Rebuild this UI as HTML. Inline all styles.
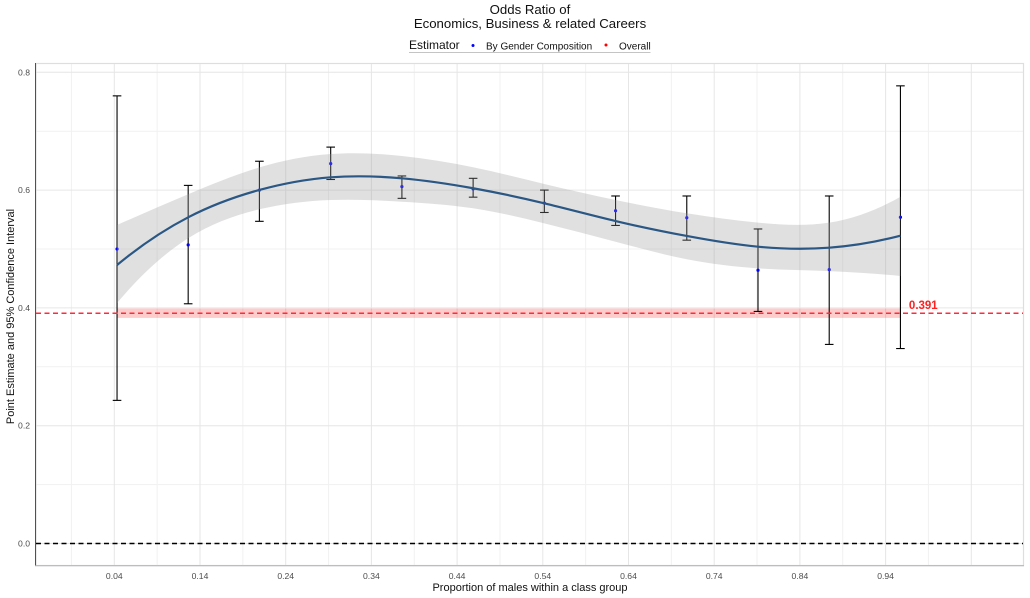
<!DOCTYPE html>
<html>
<head>
<meta charset="utf-8">
<title>Odds Ratio of Economics, Business &amp; related Careers</title>
<style>
html,body{margin:0;padding:0;background:#fff;width:1030px;height:598px;overflow:hidden}
svg{display:block}
text{font-family:"Liberation Sans",sans-serif}
</style>
</head>
<body>
<svg id="chart" xmlns="http://www.w3.org/2000/svg" width="1030" height="598" viewBox="0 0 1030 598">
  <rect x="0" y="0" width="1030" height="598" fill="#fff"/>
  <g id="grid"></g>
  <rect x="36" y="63.5" width="987.5" height="502" fill="none" stroke="#dedede" stroke-width="1.2"/>
  <g id="ci-band"></g>
  <g id="bars"></g>
  <g id="points"></g>
  <g id="smooth"></g>
  <g id="refs"></g>
  <line x1="35.5" y1="63" x2="35.5" y2="566" stroke="#2c5a86" stroke-width="1"/>
  <line x1="35" y1="565.8" x2="1024" y2="565.8" stroke="#b0b0bc" stroke-width="1"/>
  <g id="ticks"></g>
  <text x="530" y="14" font-size="13.2" fill="#111" text-anchor="middle">Odds Ratio of</text>
  <text x="530" y="28" font-size="13.2" fill="#111" text-anchor="middle">Economics, Business &amp; related Careers</text>
  <text x="409" y="49" font-size="12" fill="#111">Estimator</text>
  <circle cx="473" cy="45.5" r="1.5" fill="#0000ff"/>
  <text x="486" y="49.5" font-size="10" fill="#111">By Gender Composition</text>
  <circle cx="606" cy="45" r="1.5" fill="#ff0000"/>
  <text x="619" y="49.5" font-size="10" fill="#111">Overall</text>
  <line x1="409" y1="52.5" x2="650.5" y2="52.5" stroke="#c4c4c4" stroke-width="1"/>
  <text x="530" y="591" font-size="11" fill="#111" text-anchor="middle">Proportion of males within a class group</text>
  <text transform="translate(14,316.5) rotate(-90)" font-size="11" fill="#111" text-anchor="middle">Point Estimate and 95% Confidence Interval</text>
  <text id="overall-label" font-size="11.5" font-weight="bold" fill="#ff2020"></text>
</svg>
<script>
const groupX = [0.0432, 0.1262, 0.2093, 0.2925, 0.3756, 0.4587, 0.5418, 0.6249, 0.708, 0.7911, 0.8742, 0.9573];
const estimate = [0.5, 0.507, 0.6, 0.645, 0.606, 0.602, 0.578, 0.565, 0.553, 0.464, 0.465, 0.554];
const ciHigh = [0.76, 0.608, 0.649, 0.673, 0.624, 0.62, 0.6, 0.59, 0.59, 0.534, 0.59, 0.777];
const ciLow = [0.243, 0.407, 0.547, 0.618, 0.586, 0.588, 0.562, 0.54, 0.515, 0.394, 0.338, 0.331];
const smoothY = [0.4728, 0.5538, 0.6002, 0.6217, 0.62, 0.6031, 0.5776, 0.5475, 0.5221, 0.5039, 0.5022, 0.5226];
const smoothUpper = [0.5407, 0.593, 0.6385, 0.6613, 0.6579, 0.6387, 0.6104, 0.5832, 0.5606, 0.5447, 0.5447, 0.5888];
const smoothLower = [0.4083, 0.5182, 0.5674, 0.5832, 0.5803, 0.5691, 0.5436, 0.5124, 0.4825, 0.4672, 0.4625, 0.4542];
const overallValue = 0.391;
const overallLow = 0.383;
const overallHigh = 0.399;
const xTickLabels = ['0.04', '0.14', '0.24', '0.34', '0.44', '0.54', '0.64', '0.74', '0.84', '0.94'];
const yTickLabels = ['0.0', '0.2', '0.4', '0.6', '0.8'];
const xMajorGrid = [0.04, 0.14, 0.24, 0.34, 0.44, 0.54, 0.64, 0.74, 0.84, 0.94, 1.04];
const xMinorGrid = [-0.01, 0.09, 0.19, 0.29, 0.39, 0.49, 0.59, 0.69, 0.79, 0.89, 0.99];
const yMajorGrid = [0, 0.2, 0.4, 0.6, 0.8];
const yMinorGrid = [0.1, 0.3, 0.5, 0.7];

const NS = 'http://www.w3.org/2000/svg';
function xScale(v) { return 114.3 + (v - 0.04) * 857; }
function yScale(v) { return 543.5 - v * 589; }
function make(parent, tag, attrs) {
  const el = document.createElementNS(NS, tag);
  for (const k in attrs) el.setAttribute(k, attrs[k]);
  parent.appendChild(el);
  return el;
}
// Cubic spline through the knots (parabolic run-out ends), emitted as Bezier segments.
function curveSegs(xs, ys) {
  const n = xs.length, h = [], s = [];
  for (let i = 0; i < n - 1; i++) {
    h.push(xs[i + 1] - xs[i]);
    s.push((ys[i + 1] - ys[i]) / h[i]);
  }
  const a = [], b = [], c = [], r = [];
  for (let i = 1; i < n - 1; i++) {
    a.push(i === 1 ? 0 : h[i - 1]);
    b.push(2 * (h[i - 1] + h[i]) + (i === 1 ? h[0] : 0) + (i === n - 2 ? h[n - 2] : 0));
    c.push(i === n - 2 ? 0 : h[i]);
    r.push(6 * (s[i] - s[i - 1]));
  }
  for (let i = 1; i < b.length; i++) {
    const f = a[i] / b[i - 1];
    b[i] -= f * c[i - 1];
    r[i] -= f * r[i - 1];
  }
  const inner = new Array(b.length);
  inner[b.length - 1] = r[b.length - 1] / b[b.length - 1];
  for (let i = b.length - 2; i >= 0; i--) inner[i] = (r[i] - c[i] * inner[i + 1]) / b[i];
  const M = [inner[0]].concat(inner, [inner[inner.length - 1]]);
  let d = '';
  for (let i = 0; i < n - 1; i++) {
    const m0 = s[i] - h[i] * (2 * M[i] + M[i + 1]) / 6;
    const m1 = s[i] + h[i] * (M[i] + 2 * M[i + 1]) / 6;
    const t = h[i] / 3;
    d += 'C' + (xs[i] + t).toFixed(2) + ' ' + (ys[i] + m0 * t).toFixed(2) + ' ' +
      (xs[i + 1] - t).toFixed(2) + ' ' + (ys[i + 1] - m1 * t).toFixed(2) + ' ' +
      xs[i + 1].toFixed(2) + ' ' + ys[i + 1].toFixed(2);
  }
  return d;
}

const grid = document.getElementById('grid');
xMinorGrid.forEach(function (v) {
  const el = make(grid, 'line', { x1: xScale(v), x2: xScale(v), y1: 63, y2: 566, stroke: '#f1f1f1', 'stroke-width': 1 });
  
  
});
yMinorGrid.forEach(function (v) {
  const el = make(grid, 'line', { x1: 36, x2: 1024, y1: yScale(v), y2: yScale(v), stroke: '#f1f1f1', 'stroke-width': 1 });
  
  
});
xMajorGrid.forEach(function (v) {
  const el = make(grid, 'line', { x1: xScale(v), x2: xScale(v), y1: 63, y2: 566, stroke: '#e6e6e6', 'stroke-width': 1 });
  
  
});
yMajorGrid.forEach(function (v) {
  const el = make(grid, 'line', { x1: 36, x2: 1024, y1: yScale(v), y2: yScale(v), stroke: '#e6e6e6', 'stroke-width': 1 });
  
  
});

const xFirst = xScale(groupX[0]);
const xLast = xScale(groupX[groupX.length - 1]);
const ciRect = make(document.getElementById('ci-band'), 'rect', {
  x: xFirst, width: xLast - xFirst, y: yScale(overallHigh), height: yScale(overallLow) - yScale(overallHigh),
  fill: '#ff0000', 'fill-opacity': 0.2
});



const bars = document.getElementById('bars');
groupX.forEach(function (v, i) {
  const x = xScale(v), hi = yScale(ciHigh[i]), lo = yScale(ciLow[i]);
  const stem = make(bars, 'line', { x1: x, x2: x, y1: hi, y2: lo, stroke: '#000', 'stroke-width': 1.1 });
  
  
  const top = make(bars, 'line', { x1: x - 4.3, x2: x + 4.3, y1: hi, y2: hi, stroke: '#000', 'stroke-width': 1.1 });
  
  
  const bottom = make(bars, 'line', { x1: x - 4.3, x2: x + 4.3, y1: lo, y2: lo, stroke: '#000', 'stroke-width': 1.1 });
  
  
});

const points = document.getElementById('points');
groupX.forEach(function (v, i) {
  const pt = make(points, 'circle', { cx: xScale(v), cy: yScale(estimate[i]), r: 1.6, fill: '#0000ff' });
  
  
});

const sx = groupX.map(xScale);
const up = smoothUpper.map(yScale);
const low = smoothLower.map(yScale);
const mid = smoothY.map(yScale);
const rx = sx.slice().reverse();
const rl = low.slice().reverse();
const smooth = document.getElementById('smooth');
const ribbon = make(smooth, 'path', {
  d: 'M' + sx[0] + ' ' + up[0] + curveSegs(sx, up) + 'L' + rx[0] + ' ' + rl[0] + curveSegs(rx, rl) + 'Z',
  fill: '#999999', 'fill-opacity': 0.3
});


const fit = make(smooth, 'path', {
  d: 'M' + sx[0] + ' ' + mid[0] + curveSegs(sx, mid),
  fill: 'none', stroke: '#2a5783', 'stroke-width': 2.2
});



const refs = document.getElementById('refs');
const overallLine = make(refs, 'line', {
  x1: 36, x2: 1023, y1: yScale(overallValue), y2: yScale(overallValue),
  stroke: '#ff2a3c', 'stroke-width': 1.5, 'stroke-dasharray': '5 3.5'
});


const zeroLine = make(refs, 'line', {
  x1: 36, x2: 1023, y1: yScale(0), y2: yScale(0),
  stroke: '#000', 'stroke-width': 1.4, 'stroke-dasharray': '5 3.5'
});



const label = document.getElementById('overall-label');
label.setAttribute('x', xLast + 8.5);
label.setAttribute('y', yScale(overallValue) - 4);
label.textContent = overallValue.toFixed(3);

const ticks = document.getElementById('ticks');
xTickLabels.forEach(function (t) {
  const el = make(ticks, 'text', { x: xScale(parseFloat(t)), y: 579, 'font-size': 8.6, fill: '#4d4d4d', 'text-anchor': 'middle' });
  
  
  el.textContent = t;
});
yTickLabels.forEach(function (t) {
  const el = make(ticks, 'text', { x: 30, y: yScale(parseFloat(t)) + 3, 'font-size': 8.6, fill: '#4d4d4d', 'text-anchor': 'end' });
  
  
  el.textContent = t;
});
</script>
</body>
</html>
